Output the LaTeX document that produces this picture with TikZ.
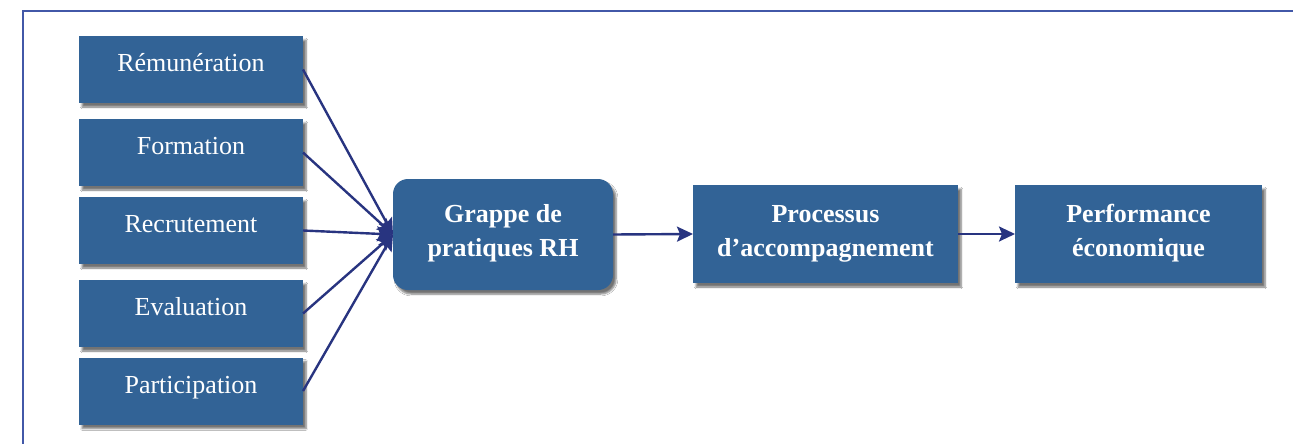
\documentclass[tikz,border=0pt]{standalone}
\usepackage{fontspec}
\setmainfont{Liberation Serif}
\usetikzlibrary{arrows.meta,shadows.blur}
\definecolor{boxblue}{RGB}{50,99,150}
\definecolor{navy}{RGB}{40,52,128}
\definecolor{framecol}{RGB}{66,88,168}
\tikzset{
  base/.style={fill=boxblue, text=white, inner sep=0pt, outer sep=0pt,
    blur shadow={shadow xshift=3pt, shadow yshift=-4pt, shadow blur steps=6, shadow opacity=55}},
  leftbox/.style={base, minimum width=224pt, minimum height=67pt,
    font=\fontsize{26}{34}\selectfont, text height=14pt, text depth=10pt},
  rightbox/.style={base, align=center, font=\fontsize{26}{34}\selectfont\bfseries,
    text height=50pt, text depth=6pt},
  conn/.style={draw=navy, line width=2.4pt, -{Stealth[length=16pt,width=15pt,inset=3pt]}},
  frameline/.style={draw=framecol, line width=1.5pt}
}
\begin{document}
\begin{tikzpicture}[x=1pt,y=-1pt]
\clip (0,0) rectangle (1293,444);
\fill[white] (0,0) rectangle (1293,444);
\draw[frameline] (1300,11) -- (23,11) -- (23,450);

\node[leftbox] (r1) at (191,69.5) {Rémunération};
\node[leftbox] (r2) at (191,152.5) {Formation};
\node[leftbox] (r3) at (191,230.5) {Recrutement};
\node[leftbox] (r4) at (191,313.5) {Evaluation};
\node[leftbox] (r5) at (191,391) {Participation};

\node[rightbox, rounded corners=15pt, minimum width=220pt, minimum height=111pt] (grappe) at (503,234.5) {Grappe de\\pratiques RH};
\node[rightbox, minimum width=265pt, minimum height=98pt] (proc) at (825.5,234) {Processus\\d’accompagnement};
\node[rightbox, minimum width=247pt, minimum height=98pt] (perf) at (1138.5,234) {Performance\\économique};

\foreach \n in {r1,r2,r3,r4,r5}
  \draw[conn] (\n.east) -- (grappe.west);
\draw[conn] (grappe.east) -- (proc.west);
\draw[conn] (proc.east) -- (perf.west);
\end{tikzpicture}
\end{document}
